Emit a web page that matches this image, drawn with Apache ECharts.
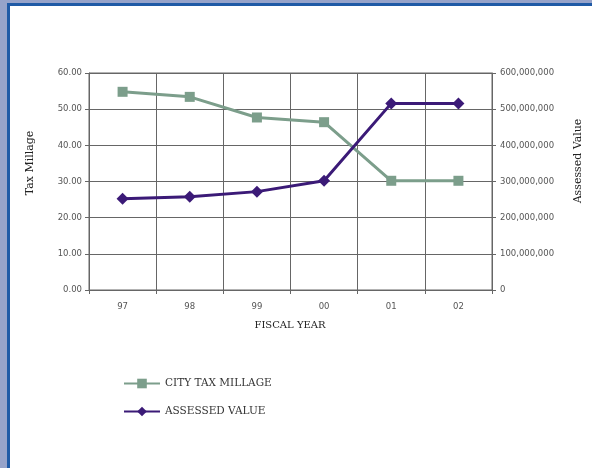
<!DOCTYPE html>
<html>
<head>
<meta charset="utf-8">
<script src="https://cdn.jsdelivr.net/npm/echarts@6/dist/echarts.min.js"></script>
<style>
html,body{margin:0;padding:0;width:592px;height:468px;overflow:hidden;background:#96a3ca;}
#frame{position:absolute;left:7px;top:3px;width:585px;height:465px;border-left:3px solid #1f5aa6;border-top:3px solid #1f5aa6;box-sizing:border-box;background:#fff;}
#chart{position:absolute;left:0;top:0;width:592px;height:468px;}
</style>
</head>
<body>
<div id="frame"></div>
<div id="chart"></div>
<script>
const categories = ['97', '98', '99', '00', '01', '02'];
const cityTaxMillage = [54.8, 53.4, 47.7, 46.4, 30.2, 30.2];
const assessedValue = [252000000, 258000000, 272000000, 302000000, 516000000, 516000000];
const leftTicks = { min: 0, max: 60, interval: 10 };
const rightTicks = { min: 0, max: 600000000, interval: 100000000 };

const chart = echarts.init(document.getElementById('chart'), null, { renderer: 'canvas' });
const labelFont = { fontFamily: 'DejaVu Sans', fontSize: 8.5, color: '#555' };
const gridColor = '#666';
chart.setOption({
  backgroundColor: 'transparent',
  animation: false,
  grid: { left: 89, right: 100, top: 73, bottom: 178, show: true, borderColor: gridColor, borderWidth: 1 },
  xAxis: {
    type: 'category', data: categories, boundaryGap: true,
    axisLine: { lineStyle: { color: gridColor } },
    axisTick: { show: true, length: 4, lineStyle: { color: gridColor } },
    axisLabel: Object.assign({ margin: 12 }, labelFont),
    splitLine: { show: true, lineStyle: { color: gridColor, width: 1 } }
  },
  yAxis: [
    {
      type: 'value', min: leftTicks.min, max: leftTicks.max, interval: leftTicks.interval,
      axisLine: { show: true, lineStyle: { color: gridColor } },
      axisTick: { show: true, length: 4, lineStyle: { color: gridColor } },
      axisLabel: Object.assign({ margin: 7, formatter: v => v.toFixed(2) }, labelFont),
      splitLine: { show: true, lineStyle: { color: gridColor, width: 1 } }
    },
    {
      type: 'value', min: rightTicks.min, max: rightTicks.max, interval: rightTicks.interval,
      position: 'right',
      axisLine: { show: true, lineStyle: { color: gridColor } },
      axisTick: { show: true, length: 4, lineStyle: { color: gridColor } },
      axisLabel: Object.assign({ margin: 8, formatter: v => v.toLocaleString('en-US') }, labelFont),
      splitLine: { show: false }
    }
  ],
  legend: {
    orient: 'vertical', left: 118, top: 373, itemGap: 17, itemWidth: 36, itemHeight: 12,
    textStyle: { fontFamily: 'DejaVu Serif', fontSize: 10.5, color: '#333' },
    data: ['CITY TAX MILLAGE', 'ASSESSED VALUE']
  },
  graphic: [
    { type: 'text', rotation: Math.PI / 2,
      style: { text: 'Tax Millage', font: '11px "DejaVu Serif"', fill: '#222', textAlign: 'center', textVerticalAlign: 'middle' },
      x: 30, y: 163 },
    { type: 'text', rotation: Math.PI / 2,
      style: { text: 'Assessed Value', font: '11px "DejaVu Serif"', fill: '#222', textAlign: 'center', textVerticalAlign: 'middle' },
      x: 578, y: 161 },
    { type: 'text',
      style: { text: 'FISCAL YEAR', font: '10px "DejaVu Serif"', fill: '#222', textAlign: 'center', textVerticalAlign: 'middle' },
      x: 290, y: 325 }
  ],
  series: [
    {
      name: 'CITY TAX MILLAGE', type: 'line', yAxisIndex: 0, data: cityTaxMillage,
      symbol: 'rect', symbolSize: 10,
      lineStyle: { color: '#7c9e8b', width: 3 },
      itemStyle: { color: '#7c9e8b' }
    },
    {
      name: 'ASSESSED VALUE', type: 'line', yAxisIndex: 1, data: assessedValue,
      symbol: 'diamond', symbolSize: 12,
      lineStyle: { color: '#3b1a77', width: 3 },
      itemStyle: { color: '#3b1a77' }
    }
  ]
});
</script>
</body>
</html>
